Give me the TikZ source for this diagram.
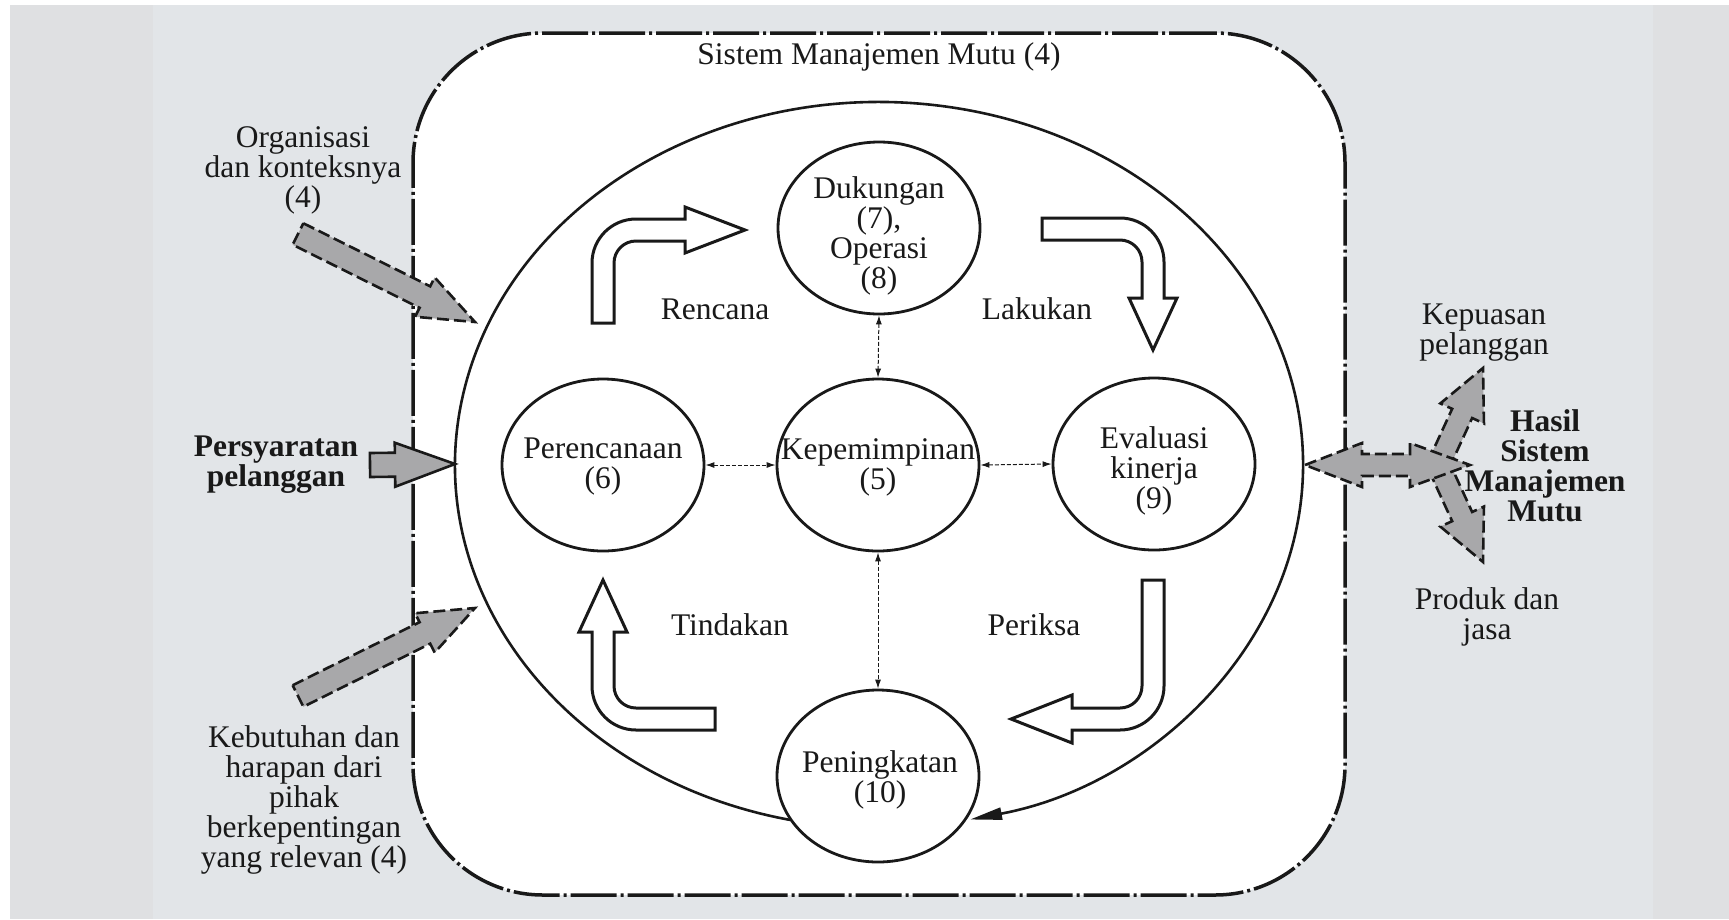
\documentclass[tikz,border=0pt]{standalone}
\usepackage{fontspec}
\setmainfont{Liberation Serif}
\usetikzlibrary{shapes.geometric, arrows.meta, calc}
\definecolor{bgdark}{RGB}{223,224,226}
\definecolor{bglight}{RGB}{226,229,232}
\definecolor{arrgrey}{RGB}{168,168,170}
\definecolor{ink}{RGB}{25,25,25}
\newcommand{\blkarrow}[6]{%
  \coordinate (ba-h) at ($(#3)!#6!(#2)$);
  \draw[#1] ($(#2)!#4!90:(#3)$) -- ($(ba-h)!#4!90:(#3)$) -- ($(ba-h)!#5!90:(#3)$) -- (#3)
    -- ($(ba-h)!#5!-90:(#3)$) -- ($(ba-h)!#4!-90:(#3)$) -- ($(#2)!#4!-90:(#3)$) -- cycle;}
\begin{document}
\begin{tikzpicture}[x=1pt,y=-1pt,
  txt/.style={font=\fontsize{31.5}{30}\selectfont, align=center, inner sep=0pt, text=ink},
  btxt/.style={font=\fontsize{31.5}{30}\selectfont\bfseries, align=center, inner sep=0pt, text=ink},
  sysbox/.style={draw=ink, fill=white, line width=3.5pt, rounded corners=130pt,
    dash pattern=on 46pt off 4pt on 3pt off 4pt, minimum width=932pt, minimum height=862pt, inner sep=0pt},
  ell/.style={draw=ink, ellipse, line width=2.8pt, minimum width=202pt, minimum height=172pt, inner sep=0pt},
  cyc/.style={draw=ink, line width=2.6pt, -{Triangle[length=32pt,width=12pt]}},
  conn/.style={draw=ink, line width=1pt, dash pattern=on 4pt off 2pt,
    {Latex[length=9pt,width=6pt]}-{Latex[length=9pt,width=6pt]}},
  bent/.style={draw=ink, fill=white, line width=3pt, line join=miter},
  garrow/.style={draw=ink, fill=arrgrey, line width=2.6pt, dash pattern=on 12pt off 5pt},
  garrowsolid/.style={draw=ink, fill=arrgrey, line width=2.6pt}]
\useasboundingbox (0,0) rectangle (1729,919);
\fill[white] (0,0) rectangle (1729,919);
\fill[bgdark] (9.6,5) rectangle (1729,919);
\fill[bglight] (153,5) rectangle (1653,919);

% system box
\node[sysbox] (sys) at (879,464) {};
\node[txt] (title) at (879,57) {Sistem Manajemen Mutu (4)};

% big cycle ellipse
\coordinate (ellC) at (879,465);
\coordinate (arcS) at ($(ellC)+(257.9:424pt and 363pt)$);
\draw[cyc] (arcS) arc[start angle=257.9, end angle=-77.6, x radius=424pt, y radius=363pt];

% circles
\node[ell] (duk) at (879,228) {};
\node[ell] (kep) at (878,465) {};
\node[ell] (per) at (603,465) {};
\node[ell] (eva) at (1154,464) {};
\node[ell] (pen) at (878,776) {};
\node[txt] (dukT) at (879,236) {Dukungan\\(7),\\Operasi\\(8)};
\node[txt] (kepT) at (878,467) {Kepemimpinan\\(5)};
\node[txt] (perT) at (603,467) {Perencanaan\\(6)};
\node[txt] (evaT) at (1154,471) {Evaluasi\\kinerja\\(9)};
\node[txt] (penT) at (880,780) {Peningkatan\\(10)};

% dashed connectors
\draw[conn] (duk.south) -- (kep.north);
\draw[conn] (per.east) -- (kep.west);
\draw[conn] (kep.east) -- (eva.west);
\draw[conn] (kep.south) -- (pen.north);

% PDCA bent arrows
\draw[bent] (592,323) -- (592,263) arc[start angle=180, end angle=90, radius=44pt] -- (685,219)
  -- (685,207) -- (745,230) -- (685,253) -- (685,241) -- (636,241)
  arc[start angle=90, end angle=180, radius=22pt] -- (614,323) -- cycle;
\draw[bent] (1042,218) -- (1120,218) arc[start angle=90, end angle=0, radius=44pt] -- (1164,298)
  -- (1177,298) -- (1153,350) -- (1129,298) -- (1142,298) -- (1142,262)
  arc[start angle=0, end angle=90, radius=22pt] -- (1042,240) -- cycle;
\draw[bent] (1164,580) -- (1164,686) arc[start angle=0, end angle=-90, radius=44pt] -- (1072,730)
  -- (1072,743) -- (1011,719) -- (1072,695) -- (1072,708) -- (1120,708)
  arc[start angle=-90, end angle=0, radius=22pt] -- (1142,580) -- cycle;
\draw[bent] (715,730) -- (636,730) arc[start angle=270, end angle=180, radius=44pt] -- (592,632)
  -- (579,632) -- (603,580) -- (627,632) -- (614,632) -- (614,686)
  arc[start angle=180, end angle=270, radius=22pt] -- (715,708) -- cycle;
\node[txt] (ren) at (715,309) {Rencana};
\node[txt] (lak) at (1037,309) {Lakukan};
\node[txt] (tin) at (730,625) {Tindakan};
\node[txt] (prk) at (1034,625) {Periksa};

% inputs
\coordinate (orgA) at (298,234); \coordinate (orgB) at (475,322);
\blkarrow{garrow}{orgA}{orgB}{12pt}{22pt}{56pt}
\coordinate (kebA) at (298,696); \coordinate (kebB) at (475,608);
\blkarrow{garrow}{kebA}{kebB}{12pt}{22pt}{56pt}
\coordinate (psyA) at (370,465); \coordinate (psyB) at (455,464);
\blkarrow{garrowsolid}{psyA}{psyB}{12pt}{22pt}{60pt}
\node[txt] (org) at (303,170) {Organisasi\\dan konteksnya\\(4)};
\node[btxt] (psy) at (276,465) {Persyaratan\\pelanggan};
\node[txt] (keb) at (304,800) {Kebutuhan dan\\harapan dari\\pihak\\berkepentingan\\yang relevan (4)};

% outputs
\coordinate (upA) at (1438,466); \coordinate (upB) at (1483,368);
\blkarrow{garrow}{upA}{upB}{11pt}{24pt}{50pt}
\coordinate (dnA) at (1438,464); \coordinate (dnB) at (1483,562);
\blkarrow{garrow}{dnA}{dnB}{11pt}{24pt}{50pt}
\coordinate (dL) at (1305,465); \coordinate (dR) at (1470,465);
\draw[garrow] (dL) -- ($(dL)+(57,-22)$) -- ($(dL)+(57,-11)$) -- ($(dR)+(-60,-11)$) -- ($(dR)+(-60,-22)$)
  -- (dR) -- ($(dR)+(-60,22)$) -- ($(dR)+(-60,11)$) -- ($(dL)+(57,11)$) -- ($(dL)+(57,22)$) -- cycle;
\node[txt] (kpu) at (1484,333) {Kepuasan\\pelanggan};
\node[btxt] (has) at (1545,466) {Hasil\\Sistem\\Manajemen\\Mutu};
\node[txt] (prd) at (1487,617) {Produk dan\\jasa};
\end{tikzpicture}
\end{document}
